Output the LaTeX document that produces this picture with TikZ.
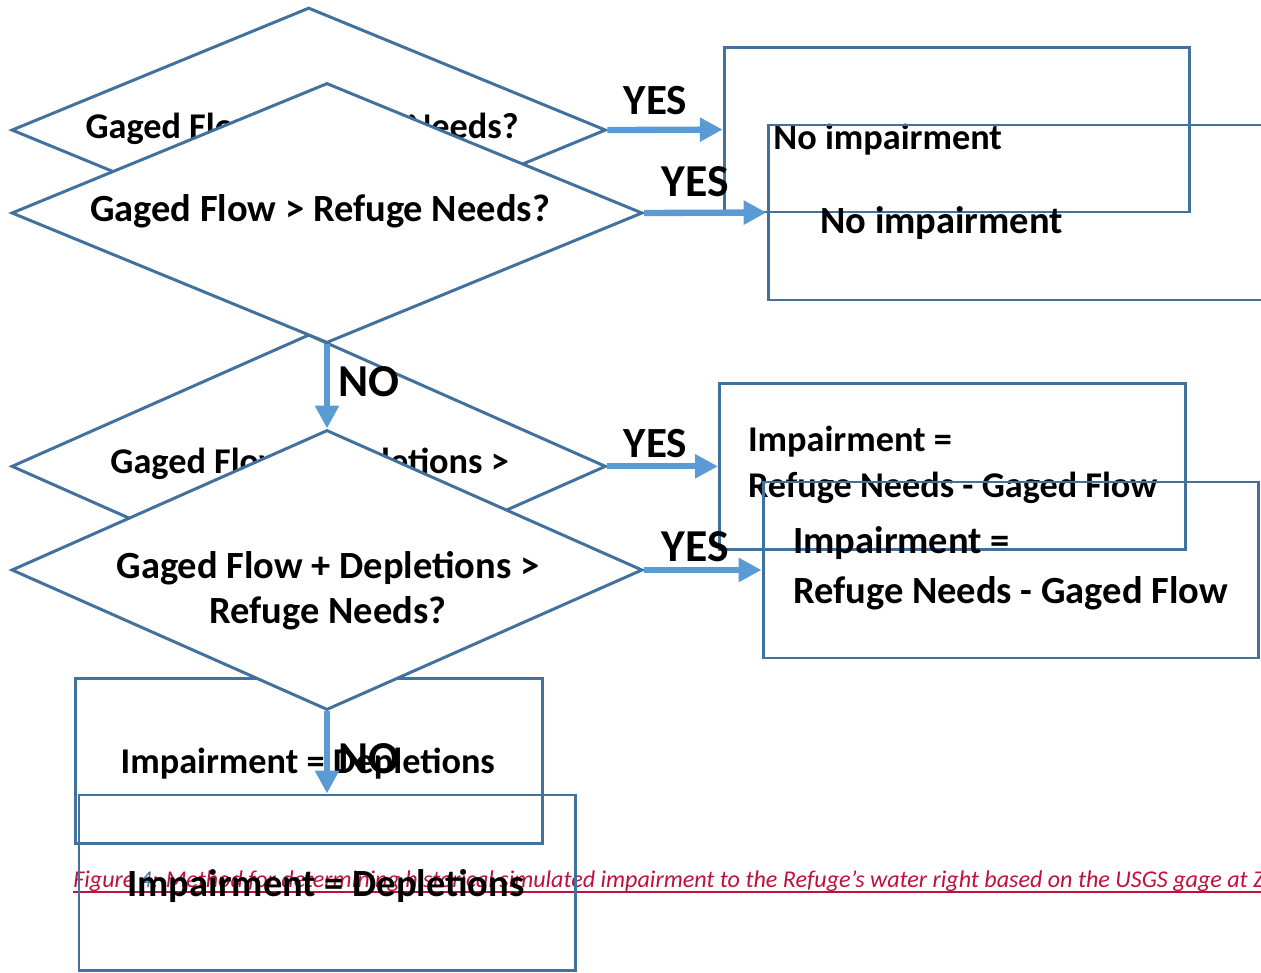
\documentclass[tikz,border=0pt]{standalone}
\usepackage{fontspec}
\setmainfont{Carlito}
\usetikzlibrary{shapes.geometric,arrows.meta}

\definecolor{edgeblue}{HTML}{41719C}
\definecolor{arrowblue}{HTML}{5B9BD5}
\definecolor{capred}{HTML}{C0103C}

\tikzset{
	decision/.style={diamond, draw=edgeblue, line width=1.7pt, fill=white, inner sep=0, aspect=2.4},
	outcome/.style={rectangle, draw=edgeblue, line width=1.7pt, inner sep=0},
	txt/.style={font=\fontsize{21.9}{25.6}\selectfont\bfseries, inner sep=0},
	answer/.style={font=\fontsize{26}{30}\selectfont\bfseries, inner sep=0},
	flow/.style={draw=arrowblue, line width=3.6pt, -{Triangle[length=13pt,width=13pt]}},
	caption/.style={font=\fontsize{13.7}{16}\selectfont\itshape, text=capred, inner sep=0},
}

\begin{document}
\begin{tikzpicture}[x=0.02cm, y=-0.02cm]
\useasboundingbox (0,0) rectangle (1261,973);
\clip (0,0) rectangle (1261,973);
% caption left behind the chart
\node[caption, anchor=base west] (cap) at (73,887) {Figure \textcolor{edgeblue}{4}: Method for determining historical simulated impairment to the Refuge's water right based on the USGS gage at Z};
\draw[capred, line width=1.1pt] ([yshift=-3pt]cap.base west) -- ([yshift=-3pt]cap.base east);
% the same chart twice, the lower copy a little smaller
\foreach \l/\s/\dx/\dy in {back/0.942/0.7/-70.6, front/1/0/0} {
\begin{scope}[shift={(\dx,\dy)}, scale=\s, transform shape]
	\node[decision, minimum width=631*0.02cm, minimum height=260*0.02cm] (\l-d1) at (327,213) {};
	\node[txt, anchor=base] (\l-q1) at (320,222) {Gaged Flow > Refuge Needs?};
	\node[decision, minimum width=631*0.02cm, minimum height=280*0.02cm] (\l-d2) at (327,570) {};
	\node[txt, anchor=base, align=center] (\l-q2) at (328,623) {Gaged Flow + Depletions >\\Refuge Needs?};
	\node[outcome, minimum width=494*0.02cm, minimum height=175*0.02cm] (\l-b1) at (1015,212.5) {};
	\node[txt, anchor=base west] (\l-r1) at (820,234) {No impairment};
	\node[outcome, minimum width=495*0.02cm, minimum height=176*0.02cm] (\l-b2) at (1010.5,570) {};
	\node[txt, anchor=base west, align=left, font=\fontsize{21.9}{27.9}\selectfont\bfseries] (\l-r2) at (793,603) {Impairment =\\Refuge Needs - Gaged Flow};
	\node[outcome, minimum width=496*0.02cm, minimum height=175*0.02cm] (\l-b3) at (327,882.5) {};
	\node[txt, anchor=base] (\l-r3) at (326,896) {Impairment = Depletions};
	\draw[flow] (\l-d1.east) -- (\l-b1.west);
	\draw[flow] (\l-d1.south) -- (\l-d2.north);
	\draw[flow] (\l-d2.east) -- (\l-b2.west);
	\draw[flow] (\l-d2.south) -- (\l-b3.north);
	\node[answer, anchor=base] (\l-y1) at (695,197) {YES};
	\node[answer, anchor=base] (\l-y2) at (695,561) {YES};
	\node[answer, anchor=base] (\l-n1) at (369,396) {NO};
	\node[answer, anchor=base] (\l-n2) at (369,773) {NO};
\end{scope}
}
\end{tikzpicture}
\end{document}
